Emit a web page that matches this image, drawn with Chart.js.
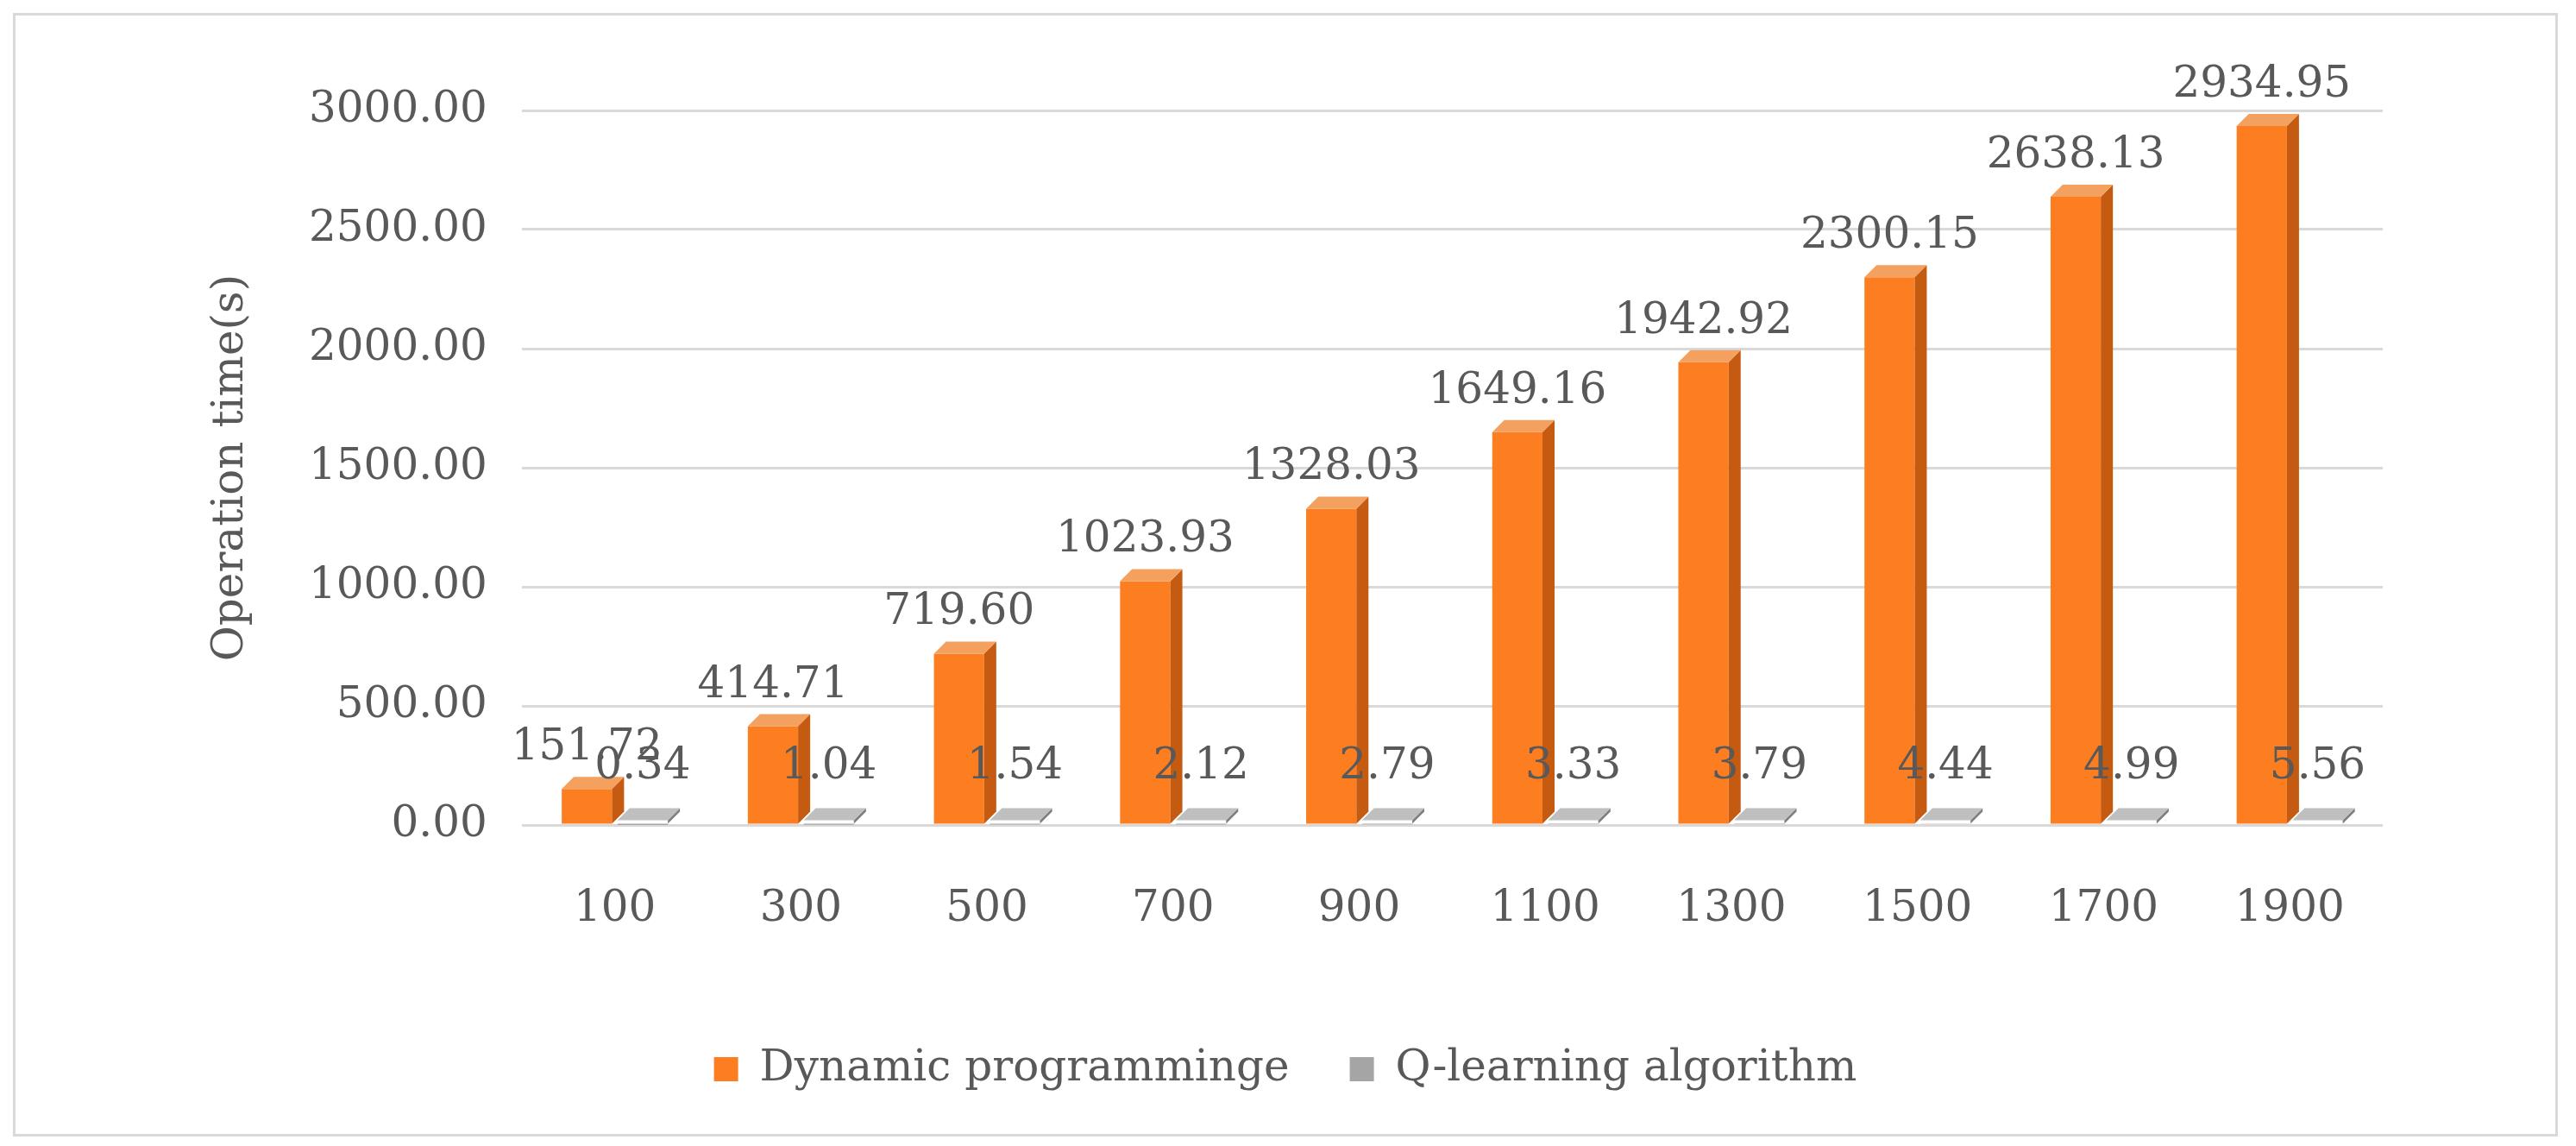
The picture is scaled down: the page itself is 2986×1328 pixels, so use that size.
<!DOCTYPE html>
<html>
<head>
<meta charset="utf-8">
<script src="https://cdn.jsdelivr.net/npm/chart.js@4"></script>
<style>
  body { margin: 0; background: #fff; }
  #box { position: absolute; left: 15px; top: 15px; width: 2944px; height: 1296px; border: 3px solid #d9d9d9; }
  canvas { display: block; }
</style>
</head>
<body>
<div id="box"><canvas id="chart" width="2944" height="1296"></canvas></div>
<script>
const categories = ["100", "300", "500", "700", "900", "1100", "1300", "1500", "1700", "1900"];
const dynamicValues = [151.72, 414.71, 719.60, 1023.93, 1328.03, 1649.16, 1942.92, 2300.15, 2638.13, 2934.95];
const qLearningValues = [0.34, 1.04, 1.54, 2.12, 2.79, 3.33, 3.79, 4.44, 4.99, 5.56];
const yTicks = [0, 500, 1000, 1500, 2000, 2500, 3000];

const fontFamily = "'DejaVu Serif', 'Liberation Serif', serif";
const textColor = "#595959";

// side faces + value labels, drawn over the flat bars
const fakeDepth = {
  id: "fakeDepth",
  afterDatasetsDraw(chart) {
    const ctx = chart.ctx;
    const d = 14;
    chart.data.datasets.forEach((ds, i) => {
      const meta = chart.getDatasetMeta(i);
      const side = i === 0 ? "#c55a11" : "#7f7f7f";
      const top = i === 0 ? "#f4a15f" : "#bfbfbf";
      meta.data.forEach((bar, j) => {
        const l = bar.x - bar.width / 2, r = bar.x + bar.width / 2;
        const t = Math.min(bar.y, bar.base - 4), b = bar.base;
        ctx.save();
        ctx.fillStyle = side;
        ctx.beginPath();
        ctx.moveTo(r, t); ctx.lineTo(r + d, t - d); ctx.lineTo(r + d, b - d); ctx.lineTo(r, b);
        ctx.closePath(); ctx.fill();
        ctx.fillStyle = top;
        ctx.beginPath();
        ctx.moveTo(l, t); ctx.lineTo(l + d, t - d); ctx.lineTo(r + d, t - d); ctx.lineTo(r, t);
        ctx.closePath(); ctx.fill();
        ctx.fillStyle = textColor;
        ctx.font = "50px " + fontFamily;
        ctx.textAlign = "center";
        ctx.textBaseline = "bottom";
        const ly = i === 0 ? t - d - 8 : b - 40;
        ctx.fillText(ds.data[j].toFixed(2), bar.x, ly);
        ctx.restore();
      });
    });
  }
};

new Chart(document.getElementById("chart"), {
  type: "bar",
  data: {
    labels: categories,
    datasets: [
      { label: "Dynamic programminge", data: dynamicValues, backgroundColor: "#fd7e21", categoryPercentage: 0.6, barPercentage: 0.9 },
      { label: "Q-learning algorithm", data: qLearningValues, backgroundColor: "#a5a5a5", categoryPercentage: 0.6, barPercentage: 0.9 }
    ]
  },
  options: {
    responsive: false,
    animation: false,
    devicePixelRatio: 1,
    layout: { padding: { left: 200, right: 200, top: 110, bottom: 40 } },
    scales: {
      y: {
        min: 0, max: 3000,
        afterBuildTicks: (axis) => { axis.ticks = yTicks.map(v => ({ value: v })); },
        border: { display: false },
        grid: { color: "#d9d9d9", lineWidth: 3, drawTicks: false },
        ticks: { color: textColor, font: { size: 50, family: fontFamily }, padding: 40, callback: v => Number(v).toFixed(2) },
        title: { display: true, text: "Operation time(s)", color: textColor, font: { size: 50, family: fontFamily }, padding: 20 }
      },
      x: {
        border: { display: false },
        grid: { display: false },
        ticks: { color: textColor, font: { size: 50, family: fontFamily }, padding: 60 }
      }
    },
    plugins: {
      legend: {
        position: "bottom",
        labels: { color: textColor, font: { size: 50, family: fontFamily }, boxWidth: 28, boxHeight: 28, padding: 70 }
      },
      tooltip: { enabled: false }
    }
  },
  plugins: [fakeDepth]
});
</script>
</body>
</html>
